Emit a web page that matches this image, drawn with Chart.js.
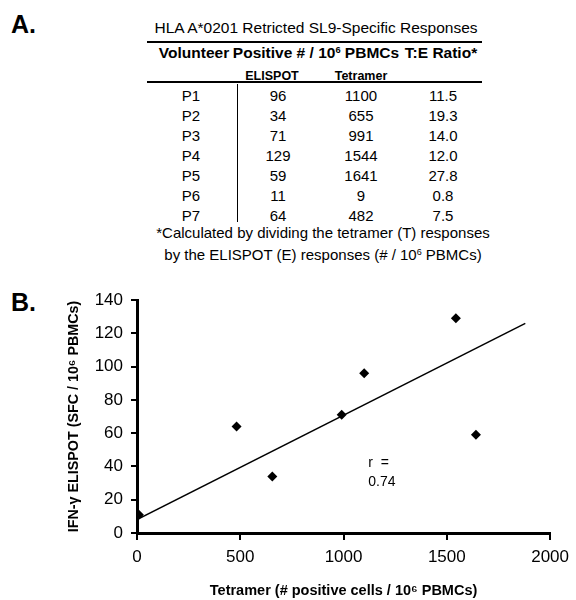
<!DOCTYPE html>
<html>
<head>
<meta charset="utf-8">
<script src="https://cdn.jsdelivr.net/npm/chart.js@4.4.1/dist/chart.umd.min.js"></script>
<style>
  body { margin: 0; background: #fff; font-family: "Liberation Sans", Arial, sans-serif; color: #000; }
  #page { position: relative; width: 576px; height: 600px; overflow: hidden; }
  .t { position: absolute; white-space: nowrap; line-height: 1; transform: translate(-50%, -50%); }
  .l { position: absolute; white-space: nowrap; line-height: 1; transform: translate(0, -50%); }
  .b { font-weight: bold; }
  .rule { position: absolute; background: #000; }
  sup { font-size: 60%; vertical-align: 0.55em; line-height: 0; }
  #chartBox { position: absolute; left: 0; top: 280px; width: 576px; height: 320px; }
</style>
</head>
<body>
<div id="page">
  <div id="table"></div>
  <div id="chartBox"><canvas id="scatter"></canvas></div>
</div>
<script>
const volunteers = ['P1', 'P2', 'P3', 'P4', 'P5', 'P6', 'P7'];
const elispot = [96, 34, 71, 129, 59, 11, 64];
const tetramer = [1100, 655, 991, 1544, 1641, 9, 482];
const teRatio = ['11.5', '19.3', '14.0', '12.0', '27.8', '0.8', '7.5'];

// regression line as drawn in the figure
const fitX = [0, 1880];
const fitY = [8, 126];

const xTicks = [0, 500, 1000, 1500, 2000];
const yTicks = [0, 20, 40, 60, 80, 100, 120, 140];

// ---- panel A: table ----
const tbl = document.getElementById('table');
function put(cls, x, y, size, html) {
    const d = document.createElement('div');
    d.className = cls;
    d.style.left = x + 'px';
    d.style.top = y + 'px';
    d.style.fontSize = size + 'px';
    d.innerHTML = html;
    tbl.appendChild(d);
}
function rule(x, y, w, h) {
    const d = document.createElement('div');
    d.className = 'rule';
    d.style.cssText = `left:${x}px;top:${y}px;width:${w}px;height:${h}px`;
    tbl.appendChild(d);
}

put('l b', 11, 24, 25, 'A.');
put('t', 316, 28, 15.5, 'HLA A*0201 Retricted SL9-Specific Responses');
rule(147, 41, 335, 2);
put('t b', 194, 53, 15.5, 'Volunteer');
put('t b', 316, 53, 15.5, 'Positive # / 10<sup>6</sup> PBMCs');
put('t b', 441, 53, 15.5, 'T:E Ratio*');
put('t b', 272, 75.5, 12.5, 'ELISPOT');
put('t b', 361, 75.5, 12.5, 'Tetramer');
rule(147, 81, 335, 2);
rule(236.5, 84, 1.5, 138);

volunteers.forEach((v, i) => {
    const y = 95 + i * 20;
    put('t', 191, y, 15, v);
    put('t', 278, y, 15, elispot[i]);
    put('t', 361, y, 15, tetramer[i]);
    put('t', 443, y, 15, teRatio[i]);
});

put('t', 323, 232, 15, '*Calculated by dividing the tetramer (T) responses');
put('t', 323, 254, 15, 'by the ELISPOT (E) responses (# / 10<sup>6</sup> PBMCs)');
put('l b', 11, 302, 25, 'B.');

// ---- panel B: scatter ----
const points = tetramer.map((t, i) => ({ x: t, y: elispot[i] }));
const fitLine = fitX.map((x, i) => ({ x: x, y: fitY[i] }));

const rLabel = {
    id: 'rLabel',
    afterDatasetsDraw(chart) {
        const { ctx, scales } = chart;
        const x = scales.x.getPixelForValue(1120);
        ctx.save();
        ctx.fillStyle = '#000';
        ctx.font = '14px "Liberation Sans", Arial, sans-serif';
        ctx.textAlign = 'left';
        ctx.textBaseline = 'middle';
        ctx.fillText('r  =', x, scales.y.getPixelForValue(42));
        ctx.fillText('0.74', x, scales.y.getPixelForValue(30.6));
        ctx.restore();
    }
};

const font = { family: '"Liberation Sans", Arial, sans-serif' };

new Chart(document.getElementById('scatter'), {
    type: 'scatter',
    data: {
        datasets: [
            {
                data: points,
                pointStyle: 'rectRot',
                pointRadius: 5,
                pointHoverRadius: 5,
                backgroundColor: '#000',
                borderWidth: 0
            },
            {
                type: 'line',
                data: fitLine,
                borderColor: '#000',
                borderWidth: 1.5,
                pointRadius: 0,
                fill: false
            }
        ]
    },
    options: {
        responsive: true,
        maintainAspectRatio: false,
        animation: false,
        layout: { padding: { top: 20, right: 23, left: 0, bottom: 0 } },
        plugins: { legend: { display: false }, tooltip: { enabled: false } },
        scales: {
            x: {
                type: 'linear',
                min: 0,
                max: 2000,
                afterBuildTicks: s => { s.ticks = xTicks.map(v => ({ value: v })); },
                afterFit: s => { s.height = 67; },
                ticks: { color: '#000', padding: 7, font: { ...font, size: 17 }, callback: v => String(v) },
                grid: { drawOnChartArea: false, drawTicks: true, tickLength: 7, color: '#000', lineWidth: 2 },
                border: { display: true, color: '#000', width: 3 },
                title: {
                    display: true,
                    text: 'Tetramer (# positive cells / 10\u2076 PBMCs)',
                    color: '#000',
                    font: { ...font, size: 14.5, weight: 'bold' },
                    padding: { top: 0, bottom: 0 }
                }
            },
            y: {
                min: 0,
                max: 140,
                afterBuildTicks: s => { s.ticks = yTicks.map(v => ({ value: v })); },
                afterFit: s => { s.width = 137; },
                ticks: { color: '#000', padding: 8, font: { ...font, size: 17 }, callback: v => String(v) },
                grid: { drawOnChartArea: false, drawTicks: true, tickLength: 6, color: '#000', lineWidth: 2 },
                border: { display: true, color: '#000', width: 3 },
                title: {
                    display: true,
                    text: 'IFN-\u03b3 ELISPOT (SFC / 10\u2076 PBMCs)',
                    color: '#000',
                    font: { ...font, size: 14.3, weight: 'bold' },
                    padding: { top: 65, bottom: 0 }
                }
            }
        }
    },
    plugins: [rLabel]
});
</script>
</body>
</html>
